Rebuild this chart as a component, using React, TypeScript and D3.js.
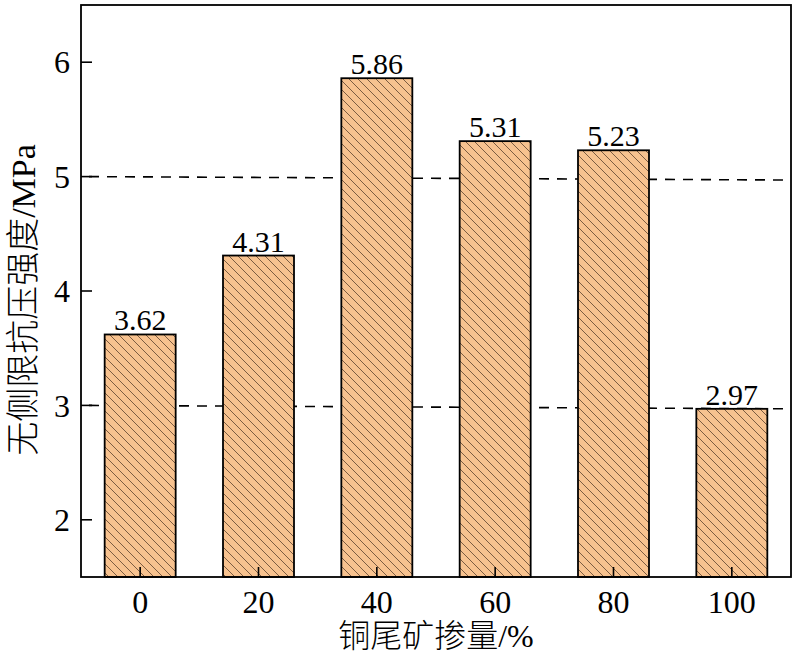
import React from "react";
import * as d3 from "d3";

const categories = ["0", "20", "40", "60", "80", "100"];
const values = [3.62, 4.31, 5.86, 5.31, 5.23, 2.97];
const valueLabels = ["3.62", "4.31", "5.86", "5.31", "5.23", "2.97"];
const yTicks = [2, 3, 4, 5, 6];
const refStart = [5, 3];
const refEnd = [4.97, 2.97];

const W = 796;
const H = 661;
const M = { left: 81, right: 5, top: 5, bottom: 84 };

export default function App() {
  const x = d3
    .scaleBand<string>()
    .domain(categories)
    .range([M.left, W - M.right])
    .paddingInner(0.4)
    .paddingOuter(0.2);
  const y = d3.scaleLinear().domain([1.5, 6.5]).range([H - M.bottom, M.top]);
  const x0 = M.left;
  const x1 = W - M.right;
  const y0 = H - M.bottom;
  const serif = "'Liberation Serif', 'Times New Roman', serif";
  const cjk = "'Liberation Serif', 'Noto Sans CJK SC', serif";

  return (
    <svg
      width={W}
      height={H}
      style={{ position: "absolute", left: 0, top: 0, background: "#fff" }}
    >
      <defs>
        <pattern id="hatch" patternUnits="userSpaceOnUse" width={9} height={9}>
          <rect width={9} height={9} fill="#F7C28F" />
          <path
            d="M0,0 L9,9 M-1,8 L1,10 M8,-1 L10,1"
            stroke="#6e5038"
            strokeWidth={0.9}
          />
        </pattern>
      </defs>

      {/* reference dashed lines */}
      {refStart.map((v, i) => (
        <line
          key={"ref" + i}
          x1={x0 + 8}
          x2={x1 - 2}
          y1={y(v)}
          y2={y(refEnd[i])}
          stroke="#000"
          strokeWidth={1.6}
          strokeDasharray="10,8"
        />
      ))}

      {/* bars */}
      {categories.map((c, i) => (
        <rect
          key={"bar" + c}
          x={x(c)}
          y={y(values[i])}
          width={x.bandwidth()}
          height={y0 - y(values[i])}
          fill="url(#hatch)"
          stroke="#000"
          strokeWidth={1.8}
        />
      ))}

      {/* value labels */}
      {categories.map((c, i) => (
        <text
          key={"lab" + c}
          x={(x(c) as number) + x.bandwidth() / 2}
          y={y(values[i]) - 4}
          textAnchor="middle"
          fontFamily={serif}
          fontSize={30}
          fill="#000"
        >
          {valueLabels[i]}
        </text>
      ))}

      {/* x ticks (inside) */}
      {categories.map((c) => {
        const cx = (x(c) as number) + x.bandwidth() / 2;
        return (
          <g key={"xt" + c}>
            <line x1={cx} x2={cx} y1={y0} y2={y0 - 10} stroke="#000" strokeWidth={1.6} />
            <text
              x={cx}
              y={y0 + 36}
              textAnchor="middle"
              fontFamily={serif}
              fontSize={32}
              fill="#000"
            >
              {c}
            </text>
          </g>
        );
      })}

      {/* y ticks (inside) */}
      {yTicks.map((t) => (
        <g key={"yt" + t}>
          <line x1={x0} x2={x0 + 11} y1={y(t)} y2={y(t)} stroke="#000" strokeWidth={1.6} />
          <text
            x={x0 - 11}
            y={y(t)}
            dy="0.35em"
            textAnchor="end"
            fontFamily={serif}
            fontSize={32}
            fill="#000"
          >
            {t}
          </text>
        </g>
      ))}

      {/* frame */}
      <rect
        x={x0}
        y={M.top}
        width={x1 - x0}
        height={y0 - M.top}
        fill="none"
        stroke="#000"
        strokeWidth={1.8}
      />

      {/* axis titles */}
      <text
        x={(x0 + x1) / 2}
        y={H - 14}
        textAnchor="middle"
        fontFamily={cjk}
        fontSize={32}
        fontWeight={300}
        fill="#000"
      >
        铜尾矿掺量/%
      </text>
      <text
        transform={`translate(${35},${300}) rotate(-90)`}
        textAnchor="middle"
        fontFamily={cjk}
        fontSize={34}
        fontWeight={300}
        fill="#000"
      >
        无侧限抗压强度/MPa
      </text>
    </svg>
  );
}
